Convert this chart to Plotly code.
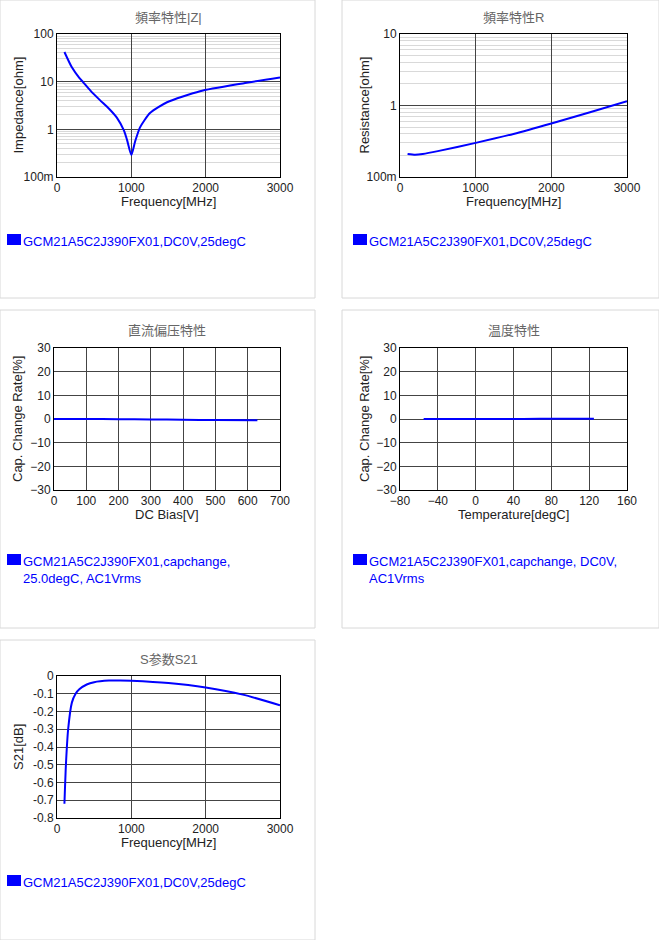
import plotly.graph_objects as go

W, H = 659, 940
z_f = [100,200,300,350,450,578,700,807,900,942,1000,1050,1117,1251,1480,1924,2500,3000]
z_v = [42,20,12,9.8,6.5,4.1,2.7,1.74,0.95,0.6,0.29,0.55,1.1,2.2,3.7,6.3,9.2,12.3]
r_f = [100,200,300,500,1000,1500,2000,2500,3000]
r_v = [0.21,0.205,0.21,0.23,0.3,0.4,0.56,0.8,1.15]
dc_v = [0,100,200,300,400,500,630]
dc_c = [0.0,0.0,-0.1,-0.2,-0.3,-0.45,-0.5]
t_v = [-55,-25,0,25,50,85,125]
t_c = [0.0,0.0,0.0,0.0,0.05,0.1,0.1]
s_f = [100,120,150,200,250,300,400,500,700,850,1000,1500,2000,2500,3000]
s_v = [-0.72,-0.5,-0.3,-0.15,-0.1,-0.075,-0.048,-0.035,-0.026,-0.025,-0.027,-0.04,-0.065,-0.105,-0.165]
legend1 = "GCM21A5C2J390FX01,DC0V,25degC"
legend3 = "GCM21A5C2J390FX01,capchange,<br>25.0degC, AC1Vrms"
legend4 = "GCM21A5C2J390FX01,capchange, DC0V,<br>AC1Vrms"

FONT = "Liberation Sans, Arial, Noto Sans CJK JP"
fig = go.Figure()
def px_dom(x0, x1, y0, y1):
    return [x0/W, x1/W], [1-y1/H, 1-y0/H]

panels = [
    dict(b=(57,280,34,177), x=z_f, y=z_v, xr=[0,3000], xd=1000, log=True, yr=[-1,2],
         yt=[0.1,1,10,100], ytt=["100m","1","10","100"], title="頻率特性|Z|", xt="Frequency[MHz]", ytl="Impedance[ohm]",
         leg=legend1, ly=240, ytx=18),
    dict(b=(400,627,34,177), x=r_f, y=r_v, xr=[0,3000], xd=1000, log=True, yr=[-1,1],
         yt=[0.1,1,10], ytt=["100m","1","10"], title="頻率特性R", xt="Frequency[MHz]", ytl="Resistance[ohm]",
         leg=legend1, ly=240, ytx=364),
    dict(b=(54,280,348,490), x=dc_v, y=dc_c, xr=[0,700], xd=100, log=False, yr=[-30,30], yd=10,
         title="直流偏压特性", xt="DC Bias[V]", ytl="Cap. Change Rate[%]", leg=legend3, ly=560, ytx=17),
    dict(b=(400,627,348,490), x=t_v, y=t_c, xr=[-80,160], xd=40, log=False, yr=[-30,30], yd=10,
         title="温度特性", xt="Temperature[degC]", ytl="Cap. Change Rate[%]", leg=legend4, ly=560, ytx=364),
    dict(b=(57,280,676,818), x=s_f, y=s_v, xr=[0,3000], xd=1000, log=False, yr=[-0.8,0], yd=0.1,
         title="S参数S21", xt="Frequency[MHz]", ytl="S21[dB]", leg=legend1, ly=881, ytt2=True, ytx=18),
]
boxes = [(0,315,0,298),(342,659,0,298),(0,315,310,628),(342,659,310,628),(0,315,640,940)]
for b in boxes:
    fig.add_shape(type="rect", xref="paper", yref="paper", x0=b[0]/W, x1=b[1]/W, y0=1-b[3]/H, y1=1-b[2]/H,
                  line=dict(color="#d8d8d8", width=1))

for i, p in enumerate(panels, start=1):
    xd, yd = px_dom(*p["b"])
    sfx = "" if i == 1 else str(i)
    fig.add_trace(go.Scatter(x=p["x"], y=p["y"], mode="lines", line=dict(color="#0000ff", width=2, shape="spline", smoothing=0.6),
                             xaxis="x"+sfx, yaxis="y"+sfx, showlegend=False))
    xa = dict(domain=xd, range=p["xr"], dtick=p["xd"], tick0=0, anchor="y"+sfx, showline=True, linecolor="black", mirror=True,
              gridcolor="#444", gridwidth=1, zeroline=False, ticks="", automargin=False,
              tickfont=dict(size=12, color="#222"))
    ya = dict(domain=yd, range=p["yr"], anchor="x"+sfx, showline=True, linecolor="black", mirror=True,
              gridcolor="#444", zeroline=False, ticks="", automargin=False,
              tickfont=dict(size=12, color="#222"))
    if p["log"]:
        ya.update(type="log", tickvals=p["yt"], ticktext=p["ytt"],
                  minor=dict(showgrid=True, gridcolor="#d9d9d9", tickvals=[v*10**e for e in range(-1,2) for v in range(2,10)]))
    else:
        ya.update(dtick=p["yd"], tick0=0)
        if p.get("ytt2"):
            ya.update(tickvals=[-0.8,-0.7,-0.6,-0.5,-0.4,-0.3,-0.2,-0.1,0],
                      ticktext=["-0.8","-0.7","-0.6","-0.5","-0.4","-0.3","-0.2","-0.1","0"])
    fig.update_layout(**{"xaxis"+sfx: xa, "yaxis"+sfx: ya})
    x0, x1, y0, y1 = p["b"]
    cx = (x0+x1)/2
    fig.add_annotation(xref="paper", yref="paper", x=cx/W, y=1-(y0-17)/H, text=p["title"], showarrow=False,
                       font=dict(size=13, color="#666"), xanchor="center", yanchor="middle")
    fig.add_annotation(xref="paper", yref="paper", x=cx/W, y=1-(y1+24)/H, text=p["xt"], showarrow=False,
                       font=dict(size=13, color="#222"), xanchor="center", yanchor="middle")
    fig.add_annotation(xref="paper", yref="paper", x=p["ytx"]/W, y=1-((y0+y1)/2)/H, text=p["ytl"], showarrow=False,
                       textangle=-90, font=dict(size=13, color="#222"), xanchor="center", yanchor="middle")
    lx = 7 if x0 < 300 else 353
    fig.add_shape(type="rect", xref="paper", yref="paper", x0=lx/W, x1=(lx+14)/W, y0=1-(p["ly"]+5)/H, y1=1-(p["ly"]-6)/H,
                  fillcolor="#0000ff", line=dict(width=0))
    fig.add_annotation(xref="paper", yref="paper", x=(lx+14)/W, y=1-(p["ly"]-8)/H, text=p["leg"], showarrow=False, align="left",
                       font=dict(size=13, color="#0000ff"), xanchor="left", yanchor="top")

fig.update_layout(width=W, height=H, margin=dict(l=0, r=0, t=0, b=0, autoexpand=False), paper_bgcolor="white", plot_bgcolor="white",
                  font=dict(family=FONT))
fig.write_html("out.html", config=dict(displayModeBar=False))
with open("out.html", encoding="utf-8") as f:
    html = f.read()
html = html.replace("<head>", "<head><style>html,body{margin:0;padding:0;overflow:hidden}</style>", 1)
with open("out.html", "w", encoding="utf-8") as f:
    f.write(html)
